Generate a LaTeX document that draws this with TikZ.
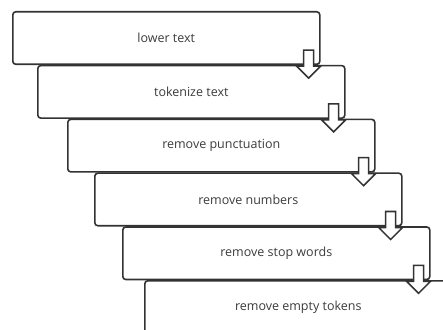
\documentclass[tikz,border=0pt]{standalone}
\usepackage{fontspec}
\setmainfont{Open Sans}
\usetikzlibrary{positioning}
\definecolor{linegray}{HTML}{333333}
\definecolor{textgray}{HTML}{3C3C3C}
\tikzset{
  stepbox/.style={draw=linegray, line width=1.6pt, rounded corners=3pt, fill=white,
    minimum width=307pt, minimum height=52.5pt, inner sep=0pt, anchor=north west,
    text=textgray, font=\fontsize{12.5}{15}\selectfont},
  downarrow/.style={draw=linegray, line width=1.5pt, fill=white, line join=miter}
}
\begin{document}
\begin{tikzpicture}[x=1pt,y=1pt]

        \useasboundingbox (0,0) rectangle (443,329);
        \clip (0,0) rectangle (443,329);

        % the steps, each one a bit further right
        \node[stepbox] (lower) at (12,318) {lower text};
        \node[stepbox] (tokenize) at (37,264.2) {tokenize text};
        \node[stepbox] (punct) at (67,210.4) {remove punctuation};
        \node[stepbox] (numbers) at (94,156.6) {remove numbers};
        \node[stepbox] (stopwords) at (122,102.8) {remove stop words};
        \node[stepbox] (empty) at (144,49) {remove empty tokens};

        % block arrows over the lower right corners
        \foreach \s in {lower,tokenize,punct,numbers,stopwords}{
          \draw[downarrow] ([shift={(-17,15)}]\s.south east) -- ++(10,0) -- ++(0,-16)
            -- ++(7,0) -- ++(-12,-12) -- ++(-12,12) -- ++(7,0) -- cycle;
        }
\end{tikzpicture}
\end{document}
